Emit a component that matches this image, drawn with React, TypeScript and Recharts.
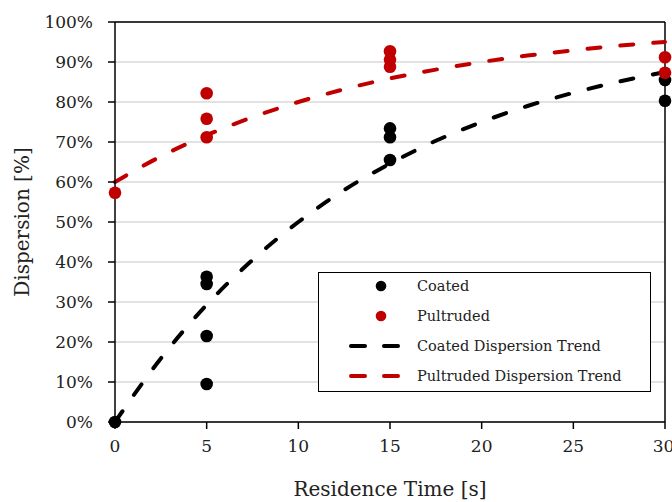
import { CartesianGrid, ComposedChart, Line, ReferenceLine, Scatter, XAxis, YAxis, Label } from "recharts"

// measured points
const coatedX = [0, 5, 5, 5, 5, 15, 15, 15, 30, 30]
const coatedY = [0, 36.3, 34.5, 21.5, 9.5, 73.4, 71.2, 65.5, 85.5, 80.3]
const pultrudedX = [0, 5, 5, 5, 15, 15, 15, 30, 30]
const pultrudedY = [57.3, 82.2, 75.8, 71.2, 92.7, 90.6, 88.8, 91.2, 87.3]

// trend curves
const trendX = [0, 2.5, 5, 7.5, 10, 12.5, 15, 17.5, 20, 22.5, 25, 27.5, 30]
const coatedTrend = [0, 15.9, 29.3, 40.5, 50, 58, 64.6, 70.3, 75, 79, 82.3, 85.1, 87.5]
const pultrudedTrend = [60, 66.4, 71.7, 76.2, 80, 83.2, 85.9, 88.1, 90, 91.6, 92.9, 94.1, 95]

const xTicks = [0, 5, 10, 15, 20, 25, 30]
const yTicks = [0, 10, 20, 30, 40, 50, 60, 70, 80, 90, 100]

const legendItems = [
    { name: "Coated", color: "#000000", kind: "dot" },
    { name: "Pultruded", color: "#C00000", kind: "dot" },
    { name: "Coated Dispersion Trend", color: "#000000", kind: "dash" },
    { name: "Pultruded Dispersion Trend", color: "#C00000", kind: "dash" },
]

const FONT = "'DejaVu Serif', 'Liberation Serif', serif"

const coatedPoints = coatedX.map((x, i) => ({ x, y: coatedY[i] }))
const pultrudedPoints = pultrudedX.map((x, i) => ({ x, y: pultrudedY[i] }))
const trendData = trendX.map((x, i) => ({ x, coated: coatedTrend[i], pultruded: pultrudedTrend[i] }))

const Dot = (color: string) => (props: any) => (
    <circle cx={props.cx} cy={props.cy} r={6.3} fill={color} />
)

export default function App() {
    return (
        <div style={{ position: "fixed", left: 0, top: 0, width: 672, height: 502, background: "#fff", fontFamily: FONT }}>
            <ComposedChart
                width={672}
                height={502}
                data={trendData}
                margin={{ top: 22, right: 7, bottom: 0, left: 0 }}
            >
                <CartesianGrid horizontal vertical={false} stroke="#d9d9d9" strokeWidth={1.5} />
                <XAxis
                    dataKey="x"
                    type="number"
                    domain={[0, 30]}
                    ticks={xTicks}
                    height={80}
                    stroke="#000"
                    strokeWidth={1.5}
                    tickSize={7}
                    tickMargin={11}
                    tick={{ fill: "#222", fontSize: 17, fontFamily: FONT }}
                >
                    <Label value="Residence Time [s]" position="insideBottom" offset={6} style={{ fill: "#222", fontSize: 20, fontFamily: FONT }} />
                </XAxis>
                <YAxis
                    type="number"
                    domain={[0, 100]}
                    ticks={yTicks}
                    width={115}
                    stroke="#000"
                    strokeWidth={1.5}
                    tickSize={7}
                    tickMargin={15}
                    tickFormatter={(v) => `${v}%`}
                    tick={{ fill: "#222", fontSize: 17, fontFamily: FONT }}
                >
                    <Label value="Dispersion [%]" angle={-90} position="insideLeft" offset={22} style={{ fill: "#222", fontSize: 20, fontFamily: FONT, textAnchor: "middle" }} />
                </YAxis>
                <ReferenceLine y={100} stroke="#000" strokeWidth={1.5} />
                <ReferenceLine x={30} stroke="#000" strokeWidth={1.5} />
                <Line
                    type="monotone"
                    dataKey="coated"
                    stroke="#000"
                    strokeWidth={4}
                    strokeDasharray="13 20"
                    strokeLinecap="round"
                    dot={false}
                    activeDot={false}
                    isAnimationActive={false}
                />
                <Line
                    type="monotone"
                    dataKey="pultruded"
                    stroke="#C00000"
                    strokeWidth={4}
                    strokeDasharray="13 20"
                    strokeLinecap="round"
                    dot={false}
                    activeDot={false}
                    isAnimationActive={false}
                />
                <Scatter data={coatedPoints} dataKey="y" fill="#000" shape={Dot("#000")} isAnimationActive={false} />
                <Scatter data={pultrudedPoints} dataKey="y" fill="#C00000" shape={Dot("#C00000")} isAnimationActive={false} />
            </ComposedChart>

            {/* legend box */}
            <div style={{ position: "absolute", left: 318, top: 272, width: 331, height: 118, border: "1.5px solid #000", background: "#fff" }}>
                {legendItems.map((item, i) => (
                    <div key={item.name} style={{ position: "absolute", left: 0, top: 1 + i * 30, height: 24, display: "flex", alignItems: "center" }}>
                        <svg width={90} height={24}>
                            {item.kind === "dot"
                                ? <circle cx={62} cy={12} r={5.3} fill={item.color} />
                                : <g stroke={item.color} strokeWidth={4} strokeLinecap="round">
                                    <line x1={32} y1={12} x2={46} y2={12} />
                                    <line x1={65} y1={12} x2={79} y2={12} />
                                </g>}
                        </svg>
                        <span style={{ marginLeft: 8, fontSize: 14.5, color: "#222", fontFamily: FONT }}>{item.name}</span>
                    </div>
                ))}
            </div>
        </div>
    )
}
